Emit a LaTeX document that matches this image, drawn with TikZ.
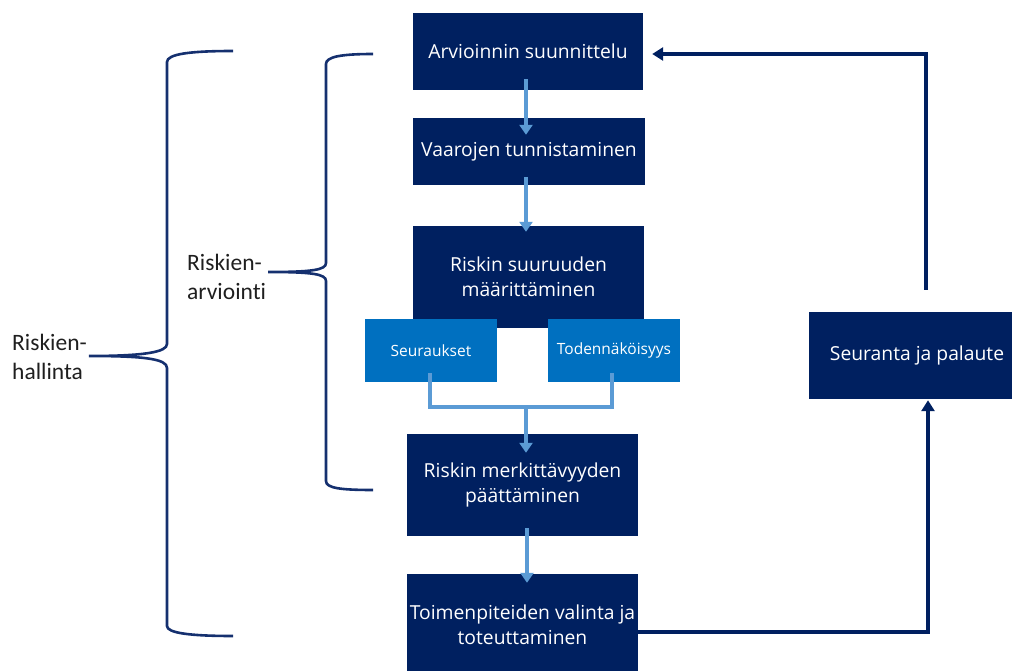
\documentclass[tikz,border=0pt]{standalone}
\usepackage{fontspec}
\usetikzlibrary{arrows.meta,calc}
\newfontfamily\boxfont{Open Sans}
\newfontfamily\labfont{Carlito}[Ligatures={NoCommon,NoContextual}]
\definecolor{navy}{HTML}{002060}
\definecolor{midblue}{HTML}{0070C0}
\definecolor{lightarrow}{HTML}{5B9BD5}
\definecolor{bracecol}{HTML}{15306F}
\tikzset{
 mainbox/.style={fill=navy, text=white, inner sep=0pt, align=center, font=\boxfont\fontsize{19.3}{24.5}\selectfont},
 subbox/.style={fill=midblue, text=white, inner sep=0pt, align=center, minimum width=132pt, minimum height=63pt, font=\boxfont\fontsize{15.5}{18}\selectfont},
 lightarr/.style={draw=lightarrow, line width=3.6pt, -{Triangle[width=13pt,length=10pt]}},
 lightline/.style={draw=lightarrow, line width=3.6pt},
 navyarr/.style={draw=navy, line width=3.6pt, -{Triangle[width=13pt,length=11pt]}},
 bracepath/.style={draw=bracecol, line width=2.6pt},
 lab/.style={text=black!88, align=left, inner sep=0pt, font=\labfont\fontsize{23.5}{29}\selectfont}
}
\begin{document}
\begin{tikzpicture}[x=1pt,y=-1pt]
\useasboundingbox (0,0) rectangle (1012,671);
\clip (0,0) rectangle (1012,671);
% main boxes
\node[mainbox, minimum width=230pt, minimum height=77pt] (n1) at (528,51.5) {Arvioinnin suunnittelu};
\node[mainbox, minimum width=232pt, minimum height=67pt] (n2) at (529,151.5) {Vaarojen tunnistaminen};
\node[mainbox, minimum width=231pt, minimum height=102pt] (n3) at (528.5,277) {Riskin suuruuden\\määrittäminen};
\node[subbox] (s1) at (431,350.5) {Seuraukset};
\node[subbox] (s2) at (614,350.5) {Todennäköisyys};
\node[mainbox, minimum width=231pt, minimum height=102pt] (n4) at (522.5,485) {Riskin merkittävyyden\\päättäminen};
\node[mainbox, minimum width=231pt, minimum height=102pt] (n5) at (522.5,625) {Toimenpiteiden valinta ja\\toteuttaminen};
\node[mainbox, minimum width=216pt, minimum height=87pt] (n6) at (917,355.5) {Seuranta ja palaute};
% light blue arrows
\draw[lightarr] ($(n1.south)+(-2,-11)$) -- ($(n1.south |- n2.north)+(-2,17)$);
\draw[lightarr] ($(n2.south)+(-3,-8)$) -- ($(n2.south |- n3.north)+(-3,6)$);
\draw[lightline] ($(s1.south)+(-1,-9)$) |- ($(s2.south)+(-2,25)$) -- ($(s2.south)+(-2,-9)$);
\coordinate (m) at ($(s1.south)!0.5!(s2.south)+(3.5,25)$);
\draw[lightarr] (m) -- ($(m |- n4.north)+(0,19)$);
\draw[lightarr] ($(n4.south)+(4.5,-8)$) -- ($(n4.south |- n5.north)+(4.5,9)$);
% navy arrows
\draw[navyarr] ($(n5.east)+(0,7)$) -| ($(n6.south)+(11,1)$);
\draw[navyarr] ($(n6.north)+(9,-22)$) |- ($(n1.east)+(9,2.5)$);
% braces
\draw[bracepath] (373,54) .. controls (340,54) and (326,57) .. (326,64) -- (326,263)
  .. controls (326,270) and (312,272) .. (268,272)
  .. controls (312,272) and (326,274) .. (326,281) -- (326,481)
  .. controls (326,488) and (340,490) .. (373,490);
\draw[bracepath] (233,51) .. controls (190,51) and (167,54) .. (167,62) -- (167,344)
  .. controls (167,352) and (145,356) .. (89,356)
  .. controls (145,356) and (167,359) .. (167,368) -- (167,626)
  .. controls (167,633) and (190,636) .. (233,636);
% labels
\node[lab, anchor=west] (la) at (187,277) {Riskien-\\arviointi};
\node[lab, anchor=west] (lh) at (12,357) {Riskien-\\hallinta};
\end{tikzpicture}
\end{document}
